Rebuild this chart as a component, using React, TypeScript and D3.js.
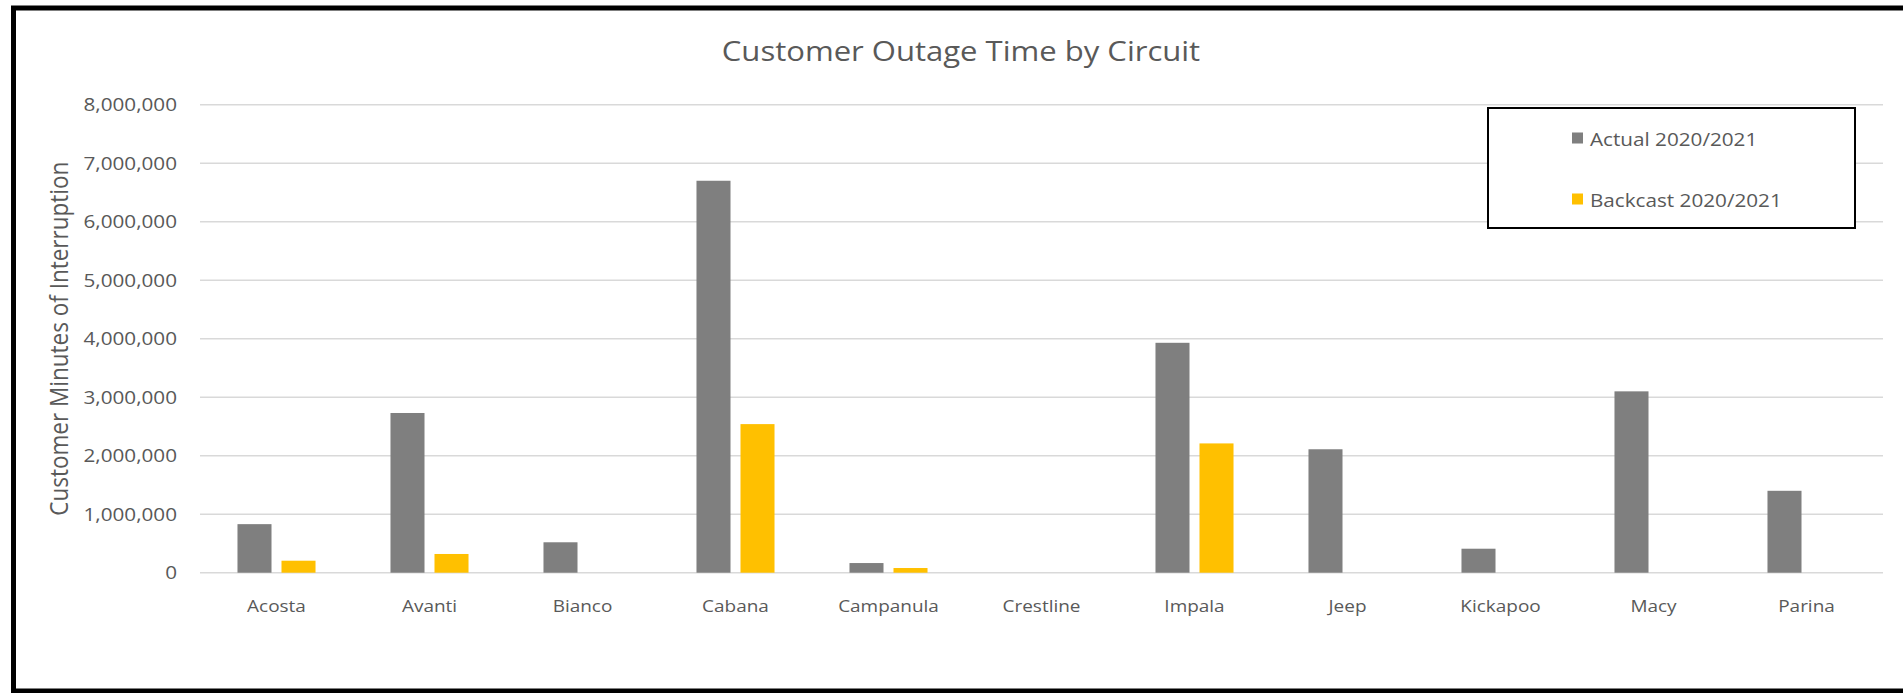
import React, { useEffect } from "react";
import { scaleBand, scaleLinear, format } from "d3";

const categories = [
    "Acosta",
    "Avanti",
    "Bianco",
    "Cabana",
    "Campanula",
    "Crestline",
    "Impala",
    "Jeep",
    "Kickapoo",
    "Macy",
    "Parina",
];

const actual = [830000, 2730000, 520000, 6700000, 165000, 0, 3930000, 2110000, 410000, 3100000, 1400000];
const backcast = [205000, 320000, 0, 2540000, 80000, 0, 2210000, 0, 0, 0, 0];

const seriesNames = ["Actual 2020/2021", "Backcast 2020/2021"];
const seriesColors = ["#7f7f7f", "#ffc000"];

const yTicks = [0, 1000000, 2000000, 3000000, 4000000, 5000000, 6000000, 7000000, 8000000];

const title = "Customer Outage Time by Circuit";
const yTitle = "Customer Minutes of Interruption";

const W = 1903;
const H = 693;
// the reference glyphs are a bit wider than they are tall
const stretch = 1.15;
const font = "'Open Sans', sans-serif";
const textColor = "#595959";

export default function App() {
    useEffect(() => {
        document.body.style.margin = "0";
    }, []);

    const margin = { top: 104.7, right: W - 1883, bottom: H - 572.7, left: 200 };

    const x0 = scaleBand<string>()
        .domain(categories)
        .range([margin.left, W - margin.right])
        .paddingInner(0.49)
        .paddingOuter(0.245);

    const x1 = scaleBand<number>()
        .domain([0, 1])
        .range([0, x0.bandwidth()])
        .paddingInner(0.227);

    const y = scaleLinear()
        .domain([0, 8000000])
        .range([H - margin.bottom, margin.top]);

    const fmt = format(",");
    const series = [actual, backcast];

    return (
        <svg width={W} height={H} style={{ display: "block" }} fontFamily={font}>
            <rect x={0} y={0} width={W} height={H} fill="#fff" />

            {/* frame */}
            <rect x={13.5} y={8} width={W + 20} height={683} fill="none" stroke="#000" strokeWidth={5} />

            {/* title */}
            <text
                transform={`translate(961,61) scale(${stretch},1)`}
                textAnchor="middle"
                fontSize={27}
                fill={textColor}
            >
                {title}
            </text>

            {/* grid + y ticks */}
            {yTicks.map((t) => (
                <g key={t}>
                    <line
                        x1={margin.left}
                        x2={W - margin.right}
                        y1={y(t)}
                        y2={y(t)}
                        stroke="#d9d9d9"
                        strokeWidth={1.6}
                    />
                    <text
                        transform={`translate(177,${y(t)}) scale(${stretch},1)`}
                        textAnchor="end"
                        dy="0.36em"
                        fontSize={18}
                        fill={textColor}
                    >
                        {fmt(t)}
                    </text>
                </g>
            ))}

            {/* y axis title */}
            <text
                transform={`translate(68,${(y(0) + y(8000000)) / 2}) rotate(-90) scale(1,${stretch})`}
                textAnchor="middle"
                fontSize={22.5}
                fill={textColor}
            >
                {yTitle}
            </text>

            {/* bars */}
            {categories.map((c, i) => (
                <g key={c} transform={`translate(${x0(c)},0)`}>
                    {series.map((s, j) =>
                        s[i] > 0 ? (
                            <rect
                                key={j}
                                x={x1(j)}
                                y={y(s[i])}
                                width={x1.bandwidth()}
                                height={y(0) - y(s[i])}
                                fill={seriesColors[j]}
                            />
                        ) : null
                    )}
                </g>
            ))}

            {/* category labels */}
            {categories.map((c) => (
                <text
                    key={c}
                    transform={`translate(${(x0(c) ?? 0) + x0.bandwidth() / 2},612) scale(${stretch},1)`}
                    textAnchor="middle"
                    fontSize={16.5}
                    fill={textColor}
                >
                    {c}
                </text>
            ))}

            {/* legend */}
            <g>
                <rect x={1488} y={108} width={367} height={120} fill="#fff" stroke="#000" strokeWidth={2} />
                {seriesNames.map((n, j) => (
                    <g key={n} transform={`translate(1572,${132.5 + j * 61})`}>
                        <rect x={0} y={0} width={11} height={11} fill={seriesColors[j]} />
                        <text
                            transform={`translate(18,13.5) scale(${stretch},1)`}
                            fontSize={18}
                            fill={textColor}
                        >
                            {n}
                        </text>
                    </g>
                ))}
            </g>
        </svg>
    );
}
